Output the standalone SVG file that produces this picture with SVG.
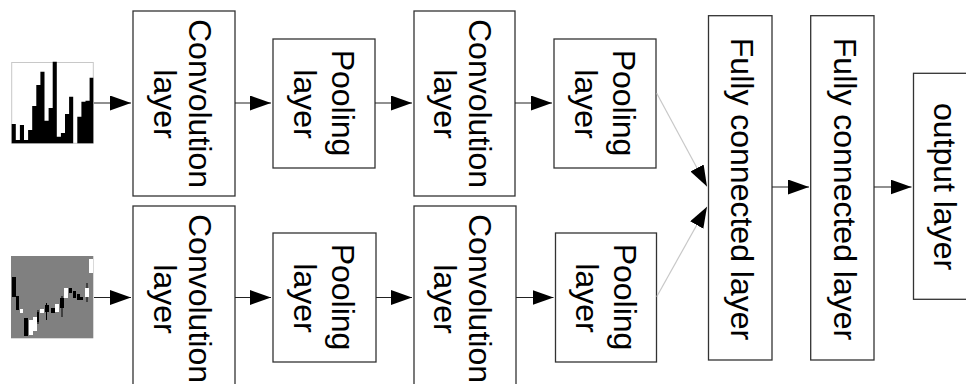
<svg xmlns="http://www.w3.org/2000/svg" width="966" height="384" viewBox="0 0 966 384">
<style>
.box{fill:#fff;stroke:#333;stroke-width:1.3}
.lbl{font-family:"Liberation Sans",Arial,sans-serif;font-size:32px;fill:#000;text-anchor:middle}
.arr{stroke:#222;stroke-width:1.2;fill:none;marker-end:url(#ah)}
.garr{stroke:#c8c8c8;stroke-width:1.2;fill:none;marker-end:url(#ah)}
</style>
<defs>
<marker id="ah" markerUnits="userSpaceOnUse" markerWidth="22" markerHeight="16" refX="21" refY="7.5" orient="auto">
<path d="M0,0 L21,7.5 L0,15 z" fill="#000"/>
</marker>
</defs>
<rect width="966" height="384" fill="#fff"/>

<g id="input-hist">
<rect x="11.7" y="62.5" width="81.6" height="80.8" fill="#fff" stroke="#c8c8c8" stroke-width="1"/>
<path fill="#000" d="M11.7,124h4.1v19.3h-4.1z M15.8,140h4.1v3.3h-4.1z M19.9,125h4.1v18.3h-4.1z M24,140h4.1v3.3h-4.1z M28.1,130h4.1v13.3h-4.1z M32.2,106h4.1v37.3h-4.1z M36.3,85h4.1v58.3h-4.1z M40.4,71.7h4.1v71.6h-4.1z M44.5,120.7h4.1v22.6h-4.1z M48.6,108h4.1v35.3h-4.1z M52.7,61.7h4.1v81.6h-4.1z M56.8,136.7h4.1v6.6h-4.1z M60.9,133h4.1v10.3h-4.1z M65,114h4.1v29.3h-4.1z M69.1,96.7h4.1v46.6h-4.1z M77.3,116.7h4.1v26.6h-4.1z M81.4,101.7h4.1v41.6h-4.1z M85.5,100.7h4.1v42.6h-4.1z M89.6,77.7h3.7v65.6h-3.7z"/>
</g>

<g id="input-candle">
<rect x="11" y="256" width="82.3" height="82.3" fill="#808080"/>
<g stroke="#000" stroke-width="1">
<line x1="46.5" y1="303" x2="46.5" y2="320"/>
<line x1="62" y1="296" x2="62" y2="317"/>
<line x1="87" y1="283" x2="87" y2="302"/>
<line x1="38" y1="310" x2="38" y2="324"/>
</g>
<path fill="#000" d="M12,277h4v20h-4z M16,296h3v14h-3z M24,318h4v18h-4z M37,312h2v10h-2z M45,305h4v7h-4z M51,308h4v5h-4z M60,298h4v10h-4z M69,288h3v5h-3z M73,291h3v7h-3z M77,294h3v6h-3z M80,297h3v3h-3z"/>
<path fill="#fff" d="M20,309h3v4h-3z M29,320h4v15h-4z M33,317h4v14h-4z M40,309h4v4h-4z M55,304h4v8h-4z M64,288h4v10h-4z M85,288h4v9h-4z M89,259h4v14h-4z"/>
</g>

<g id="conv1-top">
<rect class="box" x="133" y="11" width="102" height="185"/>
<text class="lbl" transform="translate(188.5,103.5) rotate(90)">Convolution</text>
<text class="lbl" transform="translate(153.5,104) rotate(90)">layer</text>
</g>
<g id="pool1-top">
<rect class="box" x="273" y="39" width="102" height="129"/>
<text class="lbl" transform="translate(331.5,103) rotate(90)">Pooling</text>
<text class="lbl" transform="translate(293.5,104) rotate(90)">layer</text>
</g>
<g id="conv2-top">
<rect class="box" x="414" y="11" width="101" height="185"/>
<text class="lbl" transform="translate(468.5,103.5) rotate(90)">Convolution</text>
<text class="lbl" transform="translate(433.5,104) rotate(90)">layer</text>
</g>
<g id="pool2-top">
<rect class="box" x="554" y="39" width="102" height="129"/>
<text class="lbl" transform="translate(612.5,103) rotate(90)">Pooling</text>
<text class="lbl" transform="translate(574.5,104) rotate(90)">layer</text>
</g>

<g id="conv1-bottom">
<rect class="box" x="133" y="206" width="102" height="185"/>
<text class="lbl" transform="translate(188.5,298.5) rotate(90)">Convolution</text>
<text class="lbl" transform="translate(153.5,299) rotate(90)">layer</text>
</g>
<g id="pool1-bottom">
<rect class="box" x="273" y="233" width="103" height="129"/>
<text class="lbl" transform="translate(332,297) rotate(90)">Pooling</text>
<text class="lbl" transform="translate(293.5,298) rotate(90)">layer</text>
</g>
<g id="conv2-bottom">
<rect class="box" x="414" y="206" width="102" height="185"/>
<text class="lbl" transform="translate(469,298.5) rotate(90)">Convolution</text>
<text class="lbl" transform="translate(434,299) rotate(90)">layer</text>
</g>
<g id="pool2-bottom">
<rect class="box" x="555.5" y="233" width="101" height="129"/>
<text class="lbl" transform="translate(613.5,297) rotate(90)">Pooling</text>
<text class="lbl" transform="translate(575.5,298) rotate(90)">layer</text>
</g>

<g id="fc1">
<rect class="box" x="708.5" y="15.7" width="63.5" height="344.3"/>
<text class="lbl" transform="translate(731,189) rotate(90)">Fully connected layer</text>
</g>
<g id="fc2">
<rect class="box" x="810.7" y="15.7" width="63.3" height="344.3"/>
<text class="lbl" transform="translate(833.5,189) rotate(90)">Fully connected layer</text>
</g>
<g id="output">
<rect class="box" x="913.5" y="73.3" width="100" height="226"/>
<text class="lbl" transform="translate(934,186.5) rotate(90)">output layer</text>
</g>

<g id="connectors">
<line class="arr" x1="94" y1="103" x2="131" y2="103"/>
<line class="arr" x1="235" y1="103" x2="271" y2="103"/>
<line class="arr" x1="375" y1="103" x2="412" y2="103"/>
<line class="arr" x1="515" y1="103" x2="552" y2="103"/>
<line class="garr" x1="656.7" y1="93.3" x2="707" y2="186.5"/>
<line class="arr" x1="94" y1="297.5" x2="131" y2="297.5"/>
<line class="arr" x1="235" y1="297.5" x2="271" y2="297.5"/>
<line class="arr" x1="376" y1="297.5" x2="412" y2="297.5"/>
<line class="arr" x1="516" y1="297.5" x2="553.5" y2="297.5"/>
<line class="garr" x1="656.7" y1="296.7" x2="707" y2="206.7"/>
<line class="arr" x1="772" y1="187" x2="809" y2="187"/>
<line class="arr" x1="874" y1="187" x2="911.5" y2="187"/>
</g>
</svg>
